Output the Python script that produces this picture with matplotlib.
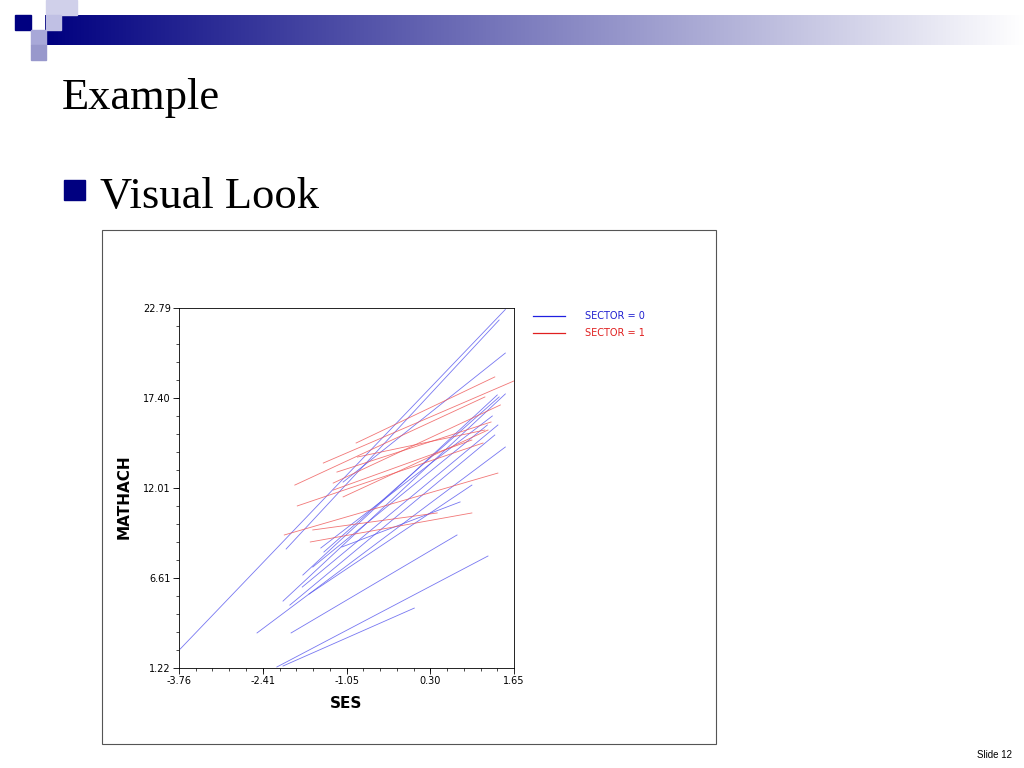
import matplotlib
matplotlib.use("Agg")
import matplotlib.pyplot as plt
import numpy as np
from matplotlib.patches import Rectangle

# Data: regression segments (x0, x1, y0, y1) per school
blue_x0 = [-3.74, -2.03, -1.11, -2.08, -2.50, -1.95, -2.18, -2.08, -1.47, -1.42, -1.77, -1.97, -1.66, -1.13, -1.76, -1.60]
blue_x1 = [1.51, 1.41, 1.51, 1.51, 1.51, 0.73, 1.23, 0.04, 1.30, 1.41, 1.39, 1.34, 0.97, 0.78, 1.38, 1.22]
blue_y0 = [2.36, 8.35, 12.36, 5.23, 3.32, 3.32, 1.28, 1.34, 8.41, 8.17, 6.07, 4.99, 5.65, 8.47, 6.79, 7.27]
blue_y1 = [22.7, 22.07, 20.09, 17.64, 14.46, 9.19, 7.93, 4.81, 16.32, 17.46, 15.78, 15.18, 12.18, 11.17, 17.58, 15.78]
red_x0 = [-0.90, -1.43, -1.89, -1.27, -1.21, -0.88, -1.85, -1.27, -2.06, -1.60, -1.64, -1.11]
red_x1 = [1.34, 1.65, 1.18, 1.43, 1.28, 1.18, 1.15, 0.97, 1.39, 0.41, 0.97, 1.23]
red_y0 = [14.70, 13.50, 12.18, 12.30, 12.96, 13.86, 10.93, 11.88, 9.19, 9.49, 8.77, 11.47]
red_y1 = [18.66, 18.42, 17.46, 16.98, 15.96, 15.48, 14.70, 14.88, 12.90, 10.51, 10.51, 15.48]
x_ticks = [-3.76, -2.41, -1.05, 0.30, 1.65]
y_ticks = [1.22, 6.61, 12.01, 17.40, 22.79]
x_labels = ["-3.76", "-2.41", "-1.05", "0.30", "1.65"]
y_labels = ["1.22", "6.61", "12.01", "17.40", "22.79"]

W, H = 1024, 768
fig = plt.figure(figsize=(10.24, 7.68), dpi=100)
bg = fig.add_axes([0, 0, 1, 1])
bg.set_xlim(0, W); bg.set_ylim(H, 0); bg.axis("off")

# header decoration
grad = np.linspace(0, 1, 400)
navy = np.array([0, 0, 0.5])
cols = navy[None, :] * (1 - grad[:, None]) + np.ones(3)[None, :] * grad[:, None]
bg.imshow(cols[None, :, :], extent=[45, 1024, 45, 15], aspect="auto")
bg.add_patch(Rectangle((15, 15), 16, 15, color="#000080"))
bg.add_patch(Rectangle((46, 0), 31, 15, color="#d0d0ea"))
bg.add_patch(Rectangle((31, 30), 15, 15, color="#a8a8d8"))
bg.add_patch(Rectangle((31, 45), 15, 15, color="#9898cc"))
bg.add_patch(Rectangle((46, 15), 15, 15, color="#c0c0e4"))

bg.text(62, 98, "Example", fontsize=32, family="Liberation Serif", va="center")
bg.add_patch(Rectangle((64, 180), 21, 20, color="#000080"))
bg.text(100, 197, "Visual Look", fontsize=32, family="Liberation Serif", va="center")
bg.text(1012, 755, "Slide 12", fontsize=7, ha="right", va="center", family="Liberation Sans")
bg.add_patch(Rectangle((102, 230), 614, 514, fill=False, lw=0.8, ec="#555555"))

# legend
bg.plot([533, 565], [316, 316], color="#2020e0", lw=0.9)
bg.plot([533, 565], [333, 333], color="#e02020", lw=0.9)
bg.text(585, 316, "SECTOR = 0", color="#2020d0", fontsize=7, va="center")
bg.text(585, 333, "SECTOR = 1", color="#e02020", fontsize=7, va="center")
bg.text(346, 703, "SES", fontsize=11, fontweight="bold", ha="center", va="center")
bg.text(124, 497, "MATHACH", fontsize=11, fontweight="bold", ha="center", va="center", rotation=90)

ax = fig.add_axes([179 / W, 1 - 668 / H, 335 / W, 360 / H])
for a, b, c, d in zip(blue_x0, blue_x1, blue_y0, blue_y1):
    ax.plot([a, b], [c, d], color="#5555ee", lw=0.6, alpha=0.8)
for a, b, c, d in zip(red_x0, red_x1, red_y0, red_y1):
    ax.plot([a, b], [c, d], color="#ee5555", lw=0.6, alpha=0.8)
ax.set_xlim(x_ticks[0], x_ticks[-1]); ax.set_ylim(y_ticks[0], y_ticks[-1])
ax.set_xticks(x_ticks, x_labels, fontsize=7)
ax.set_yticks(y_ticks, y_labels, fontsize=7)
ax.set_xticks(np.linspace(x_ticks[0], x_ticks[-1], 21), minor=True)
ax.set_yticks(np.linspace(y_ticks[0], y_ticks[-1], 21), minor=True)
ax.tick_params(length=4, width=0.6, pad=2)
ax.tick_params(which="minor", length=2, width=0.5)
for s in ax.spines.values():
    s.set_linewidth(0.6)

fig.savefig("out.png", dpi=100)
